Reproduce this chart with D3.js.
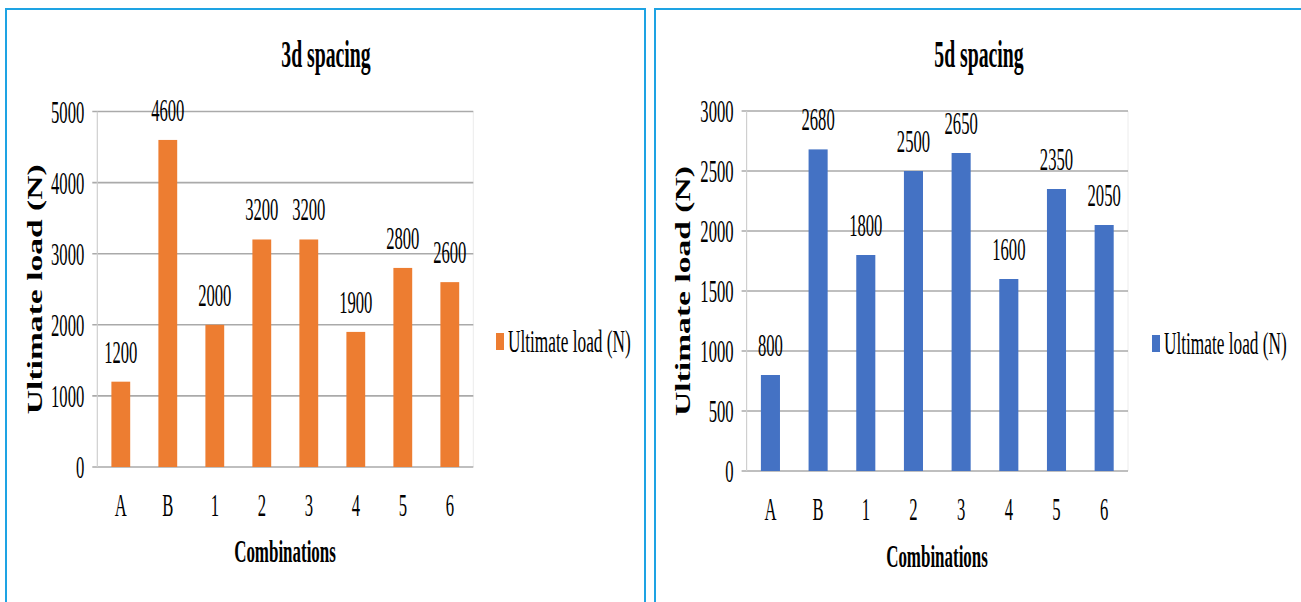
<!DOCTYPE html>
<html>
<head>
<meta charset="utf-8">
<script src="https://cdn.jsdelivr.net/npm/d3@7"></script>
<style>
  html, body { margin: 0; padding: 0; background: #fff; }
  svg { display: block; }
</style>
</head>
<body>
<svg id="chart" width="1301" height="602"></svg>
<script>
// Shared categories
const categories = ["A", "B", "1", "2", "3", "4", "5", "6"];

// Ultimate load (N), 3d spacing
const load3d = [1200, 4600, 2000, 3200, 3200, 1900, 2800, 2600];
const ticks3d = [0, 1000, 2000, 3000, 4000, 5000];

// Ultimate load (N), 5d spacing
const load5d = [800, 2680, 1800, 2500, 2650, 1600, 2350, 2050];
const ticks5d = [0, 500, 1000, 1500, 2000, 2500, 3000];

const seriesName = "Ultimate load (N)";
const xTitle = "Combinations";
const yTitle = "Ultimate load (N)";

const svg = d3.select("#chart");
const SERIF = "'Liberation Serif', 'Times New Roman', serif";
const SX = 0.52; // horizontal compression of the narrow serif lettering

// Places a horizontally compressed text element at (x, y)
function label(g, x, y, str, opts = {}) {
  const sx = opts.sx ?? SX;
  return g.append("text")
    .attr("transform", `translate(${x},${y}) scale(${sx},1)`)
    .attr("text-anchor", opts.anchor || "middle")
    .attr("font-family", SERIF)
    .attr("font-size", opts.size || 32)
    .attr("font-weight", opts.weight || "normal")
    .attr("fill", opts.fill || "#000")
    .text(str);
}

function drawPanel(cfg) {
  const g = svg.append("g");

  // panel frame (top, left, right edges; the frame runs off the bottom)
  const f = cfg.frame;
  g.append("path")
    .attr("d", `M${f.x0},${f.y1} V${f.y0} H${f.x1}` + (f.right ? ` V${f.y1}` : ""))
    .attr("stroke", "#1ea3e3").attr("stroke-width", 2).attr("fill", "none");

  const x = d3.scaleBand().domain(categories).range([cfg.plot.x0, cfg.plot.x1])
    .paddingInner(0.6).paddingOuter(0.3);
  const y = d3.scaleLinear().domain([0, d3.max(cfg.ticks)]).range([cfg.plot.y0, cfg.plot.y1]);
  const yTop = y(d3.max(cfg.ticks));

  // faint plot-area border on the right
  g.append("line")
    .attr("x1", cfg.plot.x1).attr("x2", cfg.plot.x1)
    .attr("y1", yTop).attr("y2", y(0))
    .attr("stroke", "#ececec").attr("stroke-width", 1);

  // horizontal gridlines with short tick stubs to the left
  g.append("g").selectAll("line").data(cfg.ticks).join("line")
    .attr("x1", cfg.plot.x0 - 5).attr("x2", cfg.plot.x1)
    .attr("y1", d => y(d)).attr("y2", d => y(d))
    .attr("stroke", "#aaaaaa").attr("stroke-width", 1.6);

  // vertical axis line
  g.append("line")
    .attr("x1", cfg.plot.x0).attr("x2", cfg.plot.x0)
    .attr("y1", yTop).attr("y2", y(0))
    .attr("stroke", "#cfcfcf").attr("stroke-width", 1.2);

  // y tick labels
  cfg.ticks.forEach(t => label(g, cfg.plot.x0 - 13, y(t) + 11, String(t), { anchor: "end" }));

  // bars
  g.append("g").selectAll("rect").data(cfg.values).join("rect")
    .attr("x", (d, i) => x(categories[i]))
    .attr("width", x.bandwidth())
    .attr("y", d => y(d))
    .attr("height", d => y(0) - y(d))
    .attr("fill", cfg.color);

  // value labels
  cfg.values.forEach((v, i) =>
    label(g, x(categories[i]) + x.bandwidth() / 2, y(v) - 19, String(v)));

  // category labels
  categories.forEach(c =>
    label(g, x(c) + x.bandwidth() / 2, y(0) + cfg.catDy, c));

  // x axis title
  label(g, cfg.xTitleX, cfg.xTitleY, xTitle, { size: 32, weight: "bold", sx: 0.53 });

  // chart title
  label(g, cfg.titleX, cfg.titleY, cfg.title, { size: 38, weight: "bold", sx: 0.52 });

  // y axis title, rotated and stretched along its length
  g.append("text")
    .attr("transform", `translate(${cfg.yTitleX},${(y(0) + yTop) / 2}) rotate(-90) scale(1.68,1)`)
    .attr("text-anchor", "middle")
    .attr("font-family", SERIF)
    .attr("font-size", 20)
    .attr("font-weight", "bold")
    .text(yTitle);

  // legend
  g.append("rect")
    .attr("x", cfg.legend.x).attr("y", cfg.legend.y - 9)
    .attr("width", 8).attr("height", 17)
    .attr("fill", cfg.color);
  label(g, cfg.legend.x + 12, cfg.legend.y + 10, seriesName, { anchor: "start", sx: 0.54 });
}

drawPanel({
  title: "3d spacing",
  values: load3d,
  ticks: ticks3d,
  color: "#ED7D31",
  frame: { x0: 6, x1: 645, y0: 9, y1: 602, right: true },
  plot: { x0: 97.3, x1: 473.3, y0: 467, y1: 111.5 },
  catDy: 49,
  xTitleX: 285, xTitleY: 562,
  titleX: 326, titleY: 67,
  yTitleX: 42,
  legend: { x: 496, y: 342 }
});

drawPanel({
  title: "5d spacing",
  values: load5d,
  ticks: ticks5d,
  color: "#4472C4",
  frame: { x0: 655, x1: 1305, y0: 9, y1: 602, right: false },
  plot: { x0: 746.6, x1: 1128, y0: 471, y1: 111 },
  catDy: 49,
  xTitleX: 937, xTitleY: 567,
  titleX: 979, titleY: 67,
  yTitleX: 690,
  legend: { x: 1152, y: 344 }
});
</script>
</body>
</html>
